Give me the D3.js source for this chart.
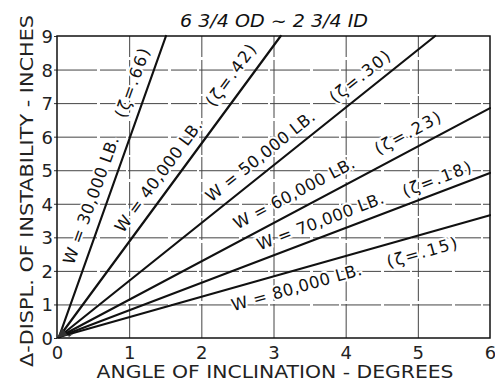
<!DOCTYPE html>
<html>
<head>
<meta charset="utf-8">
<script src="https://cdn.jsdelivr.net/npm/d3@7"></script>
<style>
  body { margin: 0; background: #fff; }
  svg { display: block; }
  .tick text { font-family: "DejaVu Sans", sans-serif; fill: #222; }
</style>
</head>
<body>
<svg id="chart" width="495" height="386"></svg>
<script>
// data
const xTicks = [0, 1, 2, 3, 4, 5, 6];
const yTicks = [0, 1, 2, 3, 4, 5, 6, 7, 8, 9];
const loads = ["30,000", "40,000", "50,000", "60,000", "70,000", "80,000"];
const zetas = [".66", ".42", ".30", ".23", ".18", ".15"];
// where each line leaves the plot (angle in deg, displacement in inches)
const endAngle = [1.51, 3.10, 5.24, 6, 6, 6];
const endDispl = [9, 9, 9, 6.85, 4.92, 3.66];

// label placement: fraction along the line, offset from it (px, + = above)
const wAt = [0.44, 0.507, 0.563, 0.566, 0.621, 0.543];
const wOff = [15, 15, 15.5, 17, 15.5, -16.5];
const zAt = [0.83, 0.84, 0.828, 0.83, 0.89, 0.834];
const zOff = [16, 17, 15.5, 17, 13.5, -17];

const svg = d3.select("#chart");
const W = 495, H = 386;
const m = { left: 57, right: 5, top: 36, bottom: 48 };

const x = d3.scaleLinear().domain([0, 6]).range([m.left, W - m.right]);
const y = d3.scaleLinear().domain([0, 9]).range([H - m.bottom, m.top]);

svg.append("rect").attr("width", W).attr("height", H).attr("fill", "#fff");

// vertical grid
const gx = svg.append("g")
  .attr("transform", `translate(0,${y(0)})`)
  .call(d3.axisBottom(x).tickValues([1, 2, 3, 4, 5]).tickSize(-(y(0) - y(9))).tickFormat(""));
gx.select(".domain").remove();
gx.selectAll("line").attr("stroke", "#444").attr("stroke-width", 1).attr("stroke-dasharray", "34,3,22,2");

// horizontal grid
const gy = svg.append("g")
  .attr("transform", `translate(${x(0)},0)`)
  .call(d3.axisRight(y).tickValues([1, 2, 3, 4, 5, 6, 7, 8]).tickSize(x(6) - x(0)).tickFormat(""));
gy.select(".domain").remove();
gy.selectAll("line").attr("stroke", "#444").attr("stroke-width", 1).attr("stroke-dasharray", "40,3,26,2");

// y axis labels with short outward ticks
const ay = svg.append("g")
  .attr("transform", `translate(${x(0)},0)`)
  .call(d3.axisLeft(y).tickValues(yTicks).tickFormat(d3.format("d")).tickSize(3).tickPadding(1));
ay.select(".domain").remove();
ay.selectAll("line").attr("stroke", "#333");
ay.selectAll("text").attr("font-size", 18).attr("dy", "0.36em");

// x axis labels
const ax = svg.append("g")
  .attr("transform", `translate(0,${y(0)})`)
  .call(d3.axisBottom(x).tickValues(xTicks).tickFormat(d3.format("d")).tickSize(0).tickPadding(8));
ax.select(".domain").remove();
ax.selectAll("text").attr("font-size", 18);

const series = loads.map((ld, i) => ({ load: ld, zeta: zetas[i], ex: endAngle[i], ey: endDispl[i], i }));

function placeAlong(d, t, off) {
  const x1 = x(0), y1 = y(0), x2 = x(d.ex), y2 = y(d.ey);
  const dx = x2 - x1, dy = y2 - y1, len = Math.hypot(dx, dy);
  const px = x1 + dx * t + (dy / len) * off;
  const py = y1 + dy * t + (-dx / len) * off;
  const ang = Math.atan2(dy, dx) * 180 / Math.PI;
  return `translate(${px},${py}) rotate(${ang})`;
}

// labels go under the lines, white halo only breaks the grid
const labels = svg.append("g")
  .attr("font-family", "DejaVu Sans, sans-serif")
  .attr("fill", "#111")
  .attr("text-anchor", "middle")
  .attr("stroke", "#fff").attr("stroke-width", 4).attr("paint-order", "stroke");

labels.selectAll("text.wl")
  .data(series)
  .enter()
  .append("text")
  .attr("class", "wl")
  .attr("font-size", 16.5)
  .attr("dy", "0.36em")
  .attr("letter-spacing", 0.4)
  .attr("transform", d => placeAlong(d, wAt[d.i], wOff[d.i]))
  .text(d => `W = ${d.load} LB.`);

labels.selectAll("text.zl")
  .data(series)
  .enter()
  .append("text")
  .attr("class", "zl")
  .attr("font-size", 16.5)
  .attr("dy", "0.36em")
  .attr("letter-spacing", 1.8)
  .attr("transform", d => placeAlong(d, zAt[d.i], zOff[d.i]))
  .text(d => `(ζ=${d.zeta})`);

// lines
svg.append("g").selectAll("line.w")
  .data(series)
  .enter()
  .append("line")
  .attr("class", "w")
  .attr("x1", x(0) + 2).attr("y1", y(0) - 1)
  .attr("x2", d => x(d.ex)).attr("y2", d => y(d.ey))
  .attr("stroke", "#111").attr("stroke-width", 2.2).attr("stroke-linecap", "round");

// dark blob where the lines meet
svg.append("path")
  .attr("d", `M${x(0)},${y(0)} L${x(0) + 16},${y(0) - 4} L${x(0) + 12},${y(0) - 1} L${x(0) + 5},${y(0) - 10} Z`)
  .attr("fill", "#333");

// frame
svg.append("rect")
  .attr("x", x(0)).attr("y", y(9))
  .attr("width", x(6) - x(0)).attr("height", y(0) - y(9))
  .attr("fill", "none").attr("stroke", "#111").attr("stroke-width", 1.5);

// title
svg.append("text")
  .attr("x", 274).attr("y", 27)
  .attr("text-anchor", "middle")
  .attr("font-family", "DejaVu Sans, sans-serif")
  .attr("font-style", "italic")
  .attr("font-size", 17)
  .attr("fill", "#111")
  .attr("textLength", 188).attr("lengthAdjust", "spacingAndGlyphs")
  .text("6 3/4 OD ∼ 2 3/4 ID");

// axis titles
svg.append("text")
  .attr("x", 275).attr("y", 378)
  .attr("text-anchor", "middle")
  .attr("font-family", "DejaVu Sans, sans-serif")
  .attr("font-size", 18)
  .attr("fill", "#222")
  .attr("textLength", 357).attr("lengthAdjust", "spacingAndGlyphs")
  .text("ANGLE OF INCLINATION - DEGREES");

svg.append("text")
  .attr("transform", "translate(33,191) rotate(-90)")
  .attr("text-anchor", "middle")
  .attr("font-family", "DejaVu Sans, sans-serif")
  .attr("font-size", 18)
  .attr("fill", "#222")
  .attr("textLength", 352).attr("lengthAdjust", "spacingAndGlyphs")
  .text("Δ-DISPL. OF INSTABILITY - INCHES");
</script>
</body>
</html>
